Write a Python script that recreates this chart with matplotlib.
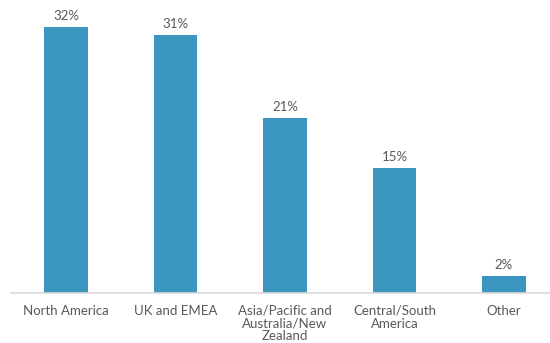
import matplotlib.pyplot as plt

regions = ["North America", "UK and EMEA", "Asia/Pacific and\nAustralia/New\nZealand",
           "Central/South\nAmerica", "Other"]
shares = [32, 31, 21, 15, 2]

bar_color = "#3b97c0"
text_color = "#595959"

plt.rcParams["font.family"] = ["Lato", "DejaVu Sans"]

fig = plt.figure(figsize=(5.5, 3.43), dpi=100)
ax = fig.add_axes([11.25 / 550, 50 / 343, 547.5 / 550, 293 / 343])

x = range(len(regions))
bars = ax.bar(x, shares, width=0.4, color=bar_color, zorder=2)
for rect, v in zip(bars, shares):
    ax.annotate(f"{v}%", (rect.get_x() + rect.get_width() / 2, v),
                xytext=(0, 4), textcoords="offset points",
                ha="center", va="bottom", fontsize=9.5, color=text_color)

ax.set_xlim(-0.5, 4.5)
ax.set_ylim(0, 35.26)
ax.set_xticks(list(x))
ax.set_xticklabels(regions, fontsize=9.5, color=text_color, linespacing=1.08)
ax.tick_params(axis="x", length=0, pad=8.5)
ax.set_yticks([])
for side in ["top", "left", "right"]:
    ax.spines[side].set_visible(False)
ax.spines["bottom"].set_color("#d9d9d9")
ax.spines["bottom"].set_linewidth(1.2)

fig.savefig("out.png", dpi=100)
